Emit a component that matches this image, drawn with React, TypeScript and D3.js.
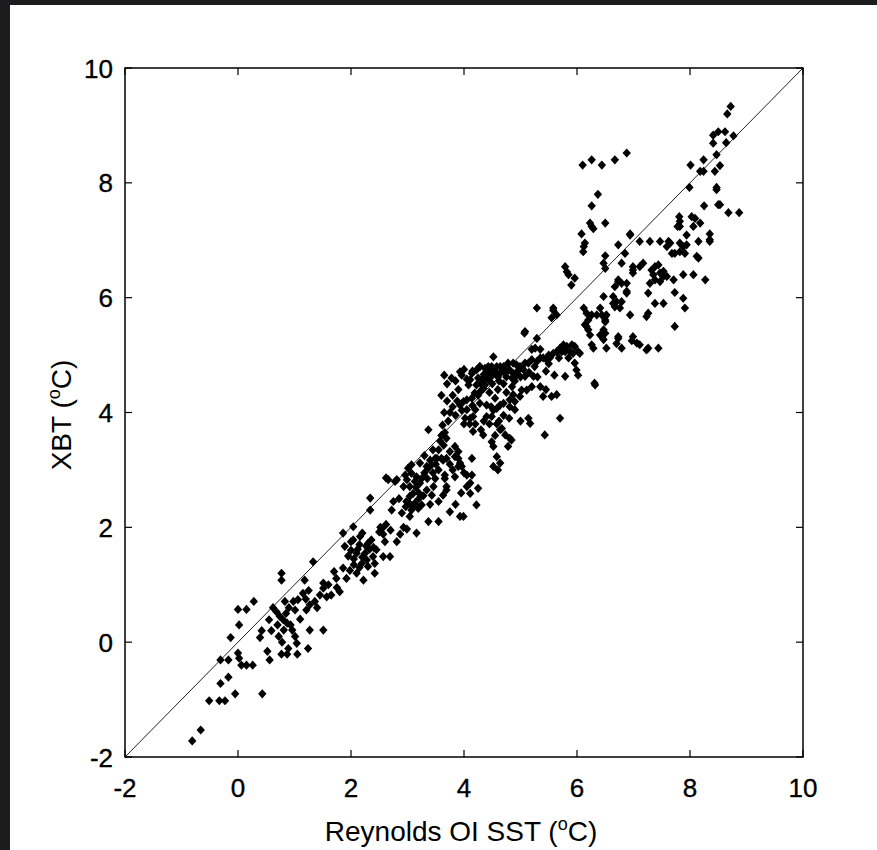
import React from 'react';
import * as d3 from 'd3';

// Axis ticks (deg C)
const xTicks = [-2, 0, 2, 4, 6, 8, 10];
const yTicks = [-2, 0, 2, 4, 6, 8, 10];
const axisDomain: [number, number] = [-2, 10];

// [Reynolds OI SST, XBT] pairs, grouped by region of the scatter
const coldPoints: [number, number][] = [
  [-0.81, -1.72], [-0.66, -1.53], [-0.51, -1.02], [-0.33, -1.02], [-0.23, -1.02], [-0.05, -0.9], [0.43, -0.9],
  [-0.31, -0.72], [-0.17, -0.61], [-0.31, -0.31], [-0.17, -0.31], [0.0, -0.19], [0.02, -0.28], [0.06, -0.4],
  [0.15, -0.4], [0.26, -0.4], [0.56, -0.31], [0.52, -0.16], [0.77, -0.21], [0.87, -0.21], [0.89, -0.11],
  [1.05, -0.21], [1.24, -0.11], [-0.13, 0.08], [0.02, 0.3], [0.0, 0.57], [0.15, 0.57], [0.28, 0.71],
  [0.39, 0.08], [0.42, 0.2], [0.59, 0.2], [0.55, 0.39], [0.68, 0.53], [0.74, 0.45], [0.8, 0.39], [0.85, 0.5],
  [0.87, 0.33], [0.81, 0.21], [0.96, 0.21], [1.01, 0.1], [1.04, -0.02], [0.83, 0.71], [0.77, 1.2], [0.77, 1.08],
  [1.18, 1.08], [1.33, 1.4], [1.27, 0.21], [1.51, 0.21], [1.01, 0.56], [1.06, 0.74], [0.98, 0.71], [1.21, 0.56],
  [1.27, 0.65], [1.36, 0.71], [1.45, 0.82], [1.51, 1.03], [1.51, 0.94], [1.57, 0.79], [0.72, 0.1], [0.78, 0.0],
  [0.9, 0.6], [0.93, 0.3], [0.7, 0.3], [0.62, 0.6], [1.1, 0.4], [1.15, 0.85], [1.25, 0.9], [1.4, 0.6], [1.2, 0.75],
];

const coolPoints: [number, number][] = [
  [1.65, 0.82], [1.7, 1.23], [1.74, 1.11], [1.8, 0.88], [1.86, 1.29], [1.92, 1.11], [1.89, 1.67], [1.86, 1.9],
  [2.04, 1.78], [2.1, 1.55], [2.1, 1.2], [2.22, 1.08], [2.19, 1.37], [2.27, 1.67], [2.36, 1.78], [2.39, 1.49],
  [2.42, 1.2], [2.16, 1.84], [2.3, 1.32], [2.04, 2.01], [2.0, 1.6], [2.05, 1.45], [2.25, 1.55], [2.33, 1.62],
  [2.45, 1.61], [2.28, 1.43], [2.42, 1.37], [2.57, 1.49], [2.69, 1.49], [2.5, 1.92], [2.55, 1.98],
  [2.57, 1.88], [2.52, 2.0], [2.81, 1.75], [2.87, 1.88], [2.93, 2.0], [2.99, 1.97], [3.16, 1.9], [2.34, 2.51],
  [2.34, 2.3], [2.72, 2.3], [2.93, 2.71], [2.99, 2.83], [2.62, 2.86], [2.66, 2.83], [2.81, 2.83], [2.78, 2.8],
  [1.6, 1.0], [1.75, 0.95], [1.95, 1.5], [2.15, 1.7], [2.2, 1.9], [2.97, 2.36], [3.07, 2.3], [3.04, 2.19],
  [2.0, 1.75], [2.12, 1.62], [2.2, 1.48], [2.3, 1.72], [2.4, 1.65], [2.15, 1.3], [1.98, 1.25], [2.6, 1.75],
  [2.7, 1.95], [2.62, 2.05], [2.05, 1.35],
];

const midPoints: [number, number][] = [
  [3.84, 3.41], [3.9, 3.32], [3.9, 3.2], [3.93, 3.12], [3.9, 3.06], [3.84, 3.23], [3.75, 3.32], [3.69, 3.2],
  [3.6, 3.2], [3.49, 3.2], [3.4, 3.17], [3.34, 3.06], [3.37, 3.03], [3.43, 3.09], [3.22, 3.12], [3.07, 3.09],
  [3.01, 3.03], [2.96, 2.91], [3.07, 2.94], [3.16, 2.88], [3.22, 2.77], [3.13, 2.8], [3.04, 2.71], [3.1, 2.59],
  [3.04, 2.54], [2.98, 2.45], [3.1, 2.36], [3.19, 2.33], [3.25, 2.39], [3.43, 2.56], [3.34, 2.65],
  [3.46, 2.71], [3.63, 2.56], [3.69, 2.65], [3.49, 2.85], [3.66, 2.91], [3.84, 2.88], [4.05, 2.91], [4.14, 2.91],
  [3.96, 3.06], [4.11, 2.77], [4.25, 2.68], [4.11, 2.59], [4.22, 2.39], [4.05, 2.71], [3.93, 2.19], [3.75, 2.27],
  [3.99, 2.19], [3.37, 2.1], [3.55, 2.1], [3.13, 2.42], [3.37, 3.7], [3.58, 3.5], [3.64, 3.43], [3.6, 3.6],
  [3.66, 3.65], [3.62, 3.78], [3.69, 3.55], [4.14, 3.2], [3.52, 3.2], [3.63, 3.17], [3.66, 2.85], [3.69, 2.71],
  [4.52, 3.41], [4.58, 3.23], [4.52, 3.06], [4.64, 3.12], [4.78, 3.41], [4.16, 3.67], [4.34, 3.61], [4.49, 3.49],
  [4.67, 3.72], [4.73, 3.61], [4.81, 3.55], [5.43, 3.61], [5.7, 3.9], [5.14, 3.9], [5.17, 3.81], [4.84, 3.52],
  [4.6, 3.0], [3.3, 2.95], [3.55, 3.0], [3.2, 2.6], [3.2, 2.5], [3.28, 2.55], [3.05, 2.4], [3.15, 2.7],
  [3.25, 2.85], [3.35, 2.85], [3.45, 2.95], [3.5, 3.1], [3.3, 3.25], [3.45, 3.35], [3.55, 3.35], [3.75, 3.1],
  [3.8, 3.0], [4.0, 2.95], [3.95, 2.6], [3.85, 2.4], [3.55, 2.45], [3.4, 2.4], [2.9, 2.25], [2.85, 2.5],
  [2.75, 2.45],
];

const corePoints: [number, number][] = [
  [5.08, 4.63], [5.23, 4.63], [5.11, 4.39], [5.02, 4.39], [4.99, 4.28], [4.87, 4.31], [4.9, 4.19], [4.81, 4.22],
  [4.81, 4.1], [4.7, 4.16], [4.64, 4.13], [4.58, 4.07], [4.52, 4.04], [4.49, 3.93], [4.4, 3.93], [4.64, 3.7],
  [4.4, 4.13], [4.28, 4.16], [4.16, 3.93], [4.11, 3.9], [4.02, 3.9], [3.96, 4.04], [3.93, 4.13], [3.99, 4.19],
  [4.05, 4.22], [4.14, 4.25], [4.19, 4.34], [4.28, 4.36], [4.34, 4.42], [4.37, 4.48], [4.43, 4.57], [4.46, 4.6],
  [4.43, 4.65], [4.4, 4.71], [4.52, 4.68], [4.58, 4.65], [4.64, 4.68], [4.73, 4.68], [4.87, 4.68], [4.93, 4.65],
  [4.52, 4.97], [4.28, 4.8], [4.22, 4.74], [4.14, 4.68], [4.11, 4.57], [3.96, 4.65], [3.93, 4.71], [4.08, 4.48],
  [4.22, 4.48], [4.34, 4.6], [6.05, 5.03], [5.93, 5.03], [6.02, 5.06], [5.96, 5.15], [5.91, 5.18], [5.82, 5.15],
  [5.76, 5.18], [5.88, 5.06], [5.79, 5.06], [5.73, 5.06], [5.64, 5.06], [5.58, 5.03], [5.52, 4.95], [5.46, 4.92],
  [5.4, 4.95], [5.35, 4.95], [5.29, 4.89], [5.2, 4.92], [5.14, 4.86], [5.08, 4.86], [4.99, 4.8], [4.93, 4.83],
  [4.87, 4.86], [4.78, 4.86], [4.7, 4.8], [4.64, 4.8], [4.58, 4.8], [4.49, 4.8], [4.43, 4.8], [4.37, 4.77],
  [4.28, 4.8], [5.96, 4.86], [5.99, 4.74], [6.02, 4.65], [5.79, 4.63], [5.64, 4.31], [6.31, 4.51], [5.07, 5.38],
  [5.29, 5.29], [5.26, 5.12], [5.2, 5.1], [5.35, 5.1], [4.0, 4.75], [4.15, 4.72], [4.35, 4.66], [4.6, 4.62],
  [4.75, 4.62], [4.9, 4.55], [5.0, 4.62], [5.15, 4.7], [5.3, 4.62], [5.45, 4.72], [5.6, 4.65], [5.45, 4.4],
  [4.75, 4.35], [4.85, 4.45], [5.2, 4.45], [5.35, 4.45], [5.4, 4.28], [5.55, 4.28], [4.7, 3.95], [4.8, 3.9],
  [4.9, 4.05], [5.0, 3.85], [4.62, 3.85], [4.58, 3.8], [3.6, 4.3], [3.7, 4.5], [3.75, 4.0], [3.8, 4.1],
  [3.85, 3.95], [3.72, 3.85], [3.65, 4.0], [3.9, 4.4], [4.0, 3.8], [4.1, 3.8], [4.2, 4.05], [3.8, 4.3],
  [3.7, 4.2], [3.78, 4.6], [3.65, 4.65], [4.45, 4.75], [4.55, 4.72], [4.68, 4.74], [4.8, 4.75], [4.95, 4.72],
  [4.5, 4.5], [4.6, 4.4], [4.55, 4.25], [4.7, 4.5], [4.45, 4.35], [4.3, 4.5], [4.25, 4.3], [4.48, 4.1],
  [4.62, 4.55], [4.85, 4.6], [5.05, 4.75], [5.25, 4.8], [5.5, 4.85], [5.68, 4.95], [5.85, 4.95], [5.7, 5.12],
  [5.5, 5.0], [4.3, 3.7], [4.2, 3.8], [4.45, 3.8], [4.55, 3.6], [4.35, 3.85], [4.05, 4.05], [4.15, 4.12],
  [4.25, 4.6], [4.05, 4.58], [3.85, 4.55], [3.88, 4.2],
];

const warmPoints: [number, number][] = [
  [6.08, 7.11], [6.12, 6.89], [6.11, 6.8], [6.94, 7.11], [6.73, 6.92], [6.85, 6.77], [6.5, 6.73], [6.47, 6.6],
  [6.5, 6.51], [6.79, 6.6], [6.99, 6.54], [6.99, 6.43], [5.79, 6.54], [5.82, 6.45], [5.85, 6.4], [5.96, 6.34],
  [5.9, 6.22], [6.73, 6.31], [6.79, 6.25], [6.88, 6.25], [6.88, 6.11], [6.47, 6.02], [6.64, 6.02], [6.7, 5.93],
  [6.67, 5.84], [6.76, 5.82], [6.79, 5.93], [6.12, 5.82], [6.17, 5.73], [6.26, 5.7], [6.35, 5.7], [6.44, 5.7],
  [6.52, 5.7], [6.5, 5.61], [6.2, 5.61], [6.17, 5.5], [6.2, 5.44], [6.94, 5.7], [6.47, 5.44], [6.44, 5.32],
  [6.47, 5.27], [6.5, 5.38], [6.73, 5.32], [6.99, 5.32], [6.52, 5.12], [6.79, 5.12], [7.06, 5.21], [6.29, 5.12],
  [6.32, 4.48], [5.58, 5.82], [5.64, 5.7], [5.29, 5.82], [5.08, 5.41], [6.1, 8.31], [6.26, 8.4], [6.44, 8.31],
  [6.67, 8.4], [6.88, 8.52], [6.37, 7.8], [6.26, 7.6], [6.23, 7.3], [6.26, 7.24], [6.29, 7.2], [6.5, 7.3],
  [6.14, 6.95], [5.58, 5.78], [5.55, 5.65], [6.73, 6.28], [6.67, 6.19], [6.88, 6.08], [6.64, 5.9],
  [6.41, 5.82], [6.5, 5.67], [7.26, 6.08], [7.38, 5.9], [7.53, 5.9], [7.26, 5.73], [7.23, 5.67], [7.73, 6.09],
  [7.88, 5.99], [7.91, 5.82], [7.73, 5.5], [6.73, 5.29], [7.11, 5.18], [7.26, 5.12], [7.44, 5.12],
  [6.14, 5.53], [6.23, 5.35], [6.41, 5.35], [6.5, 5.58], [6.7, 5.2], [6.97, 5.25], [7.23, 5.09], [6.26, 5.18],
];

const hotPoints: [number, number][] = [
  [8.72, 9.33], [8.66, 9.2], [8.41, 8.83], [8.41, 8.69], [8.5, 8.89], [8.62, 8.89], [8.64, 8.7], [8.77, 8.82],
  [8.47, 8.49], [8.53, 8.3], [8.44, 8.2], [8.24, 8.4], [8.18, 8.2], [8.24, 8.2], [8.01, 8.31], [7.99, 7.92],
  [8.47, 7.92], [8.47, 7.88], [8.5, 7.62], [8.53, 7.62], [8.68, 7.48], [8.87, 7.48], [8.25, 7.6], [7.81, 7.41],
  [7.82, 7.33], [7.78, 7.24], [7.82, 7.24], [8.03, 7.41], [8.09, 7.38], [8.06, 7.24], [8.18, 7.3], [7.94, 7.09],
  [8.35, 7.11], [8.35, 7.01], [6.94, 7.09], [7.11, 6.98], [7.29, 6.98], [7.47, 6.98], [7.62, 6.98], [7.59, 6.89],
  [7.65, 6.95], [7.68, 6.77], [7.73, 6.77], [7.82, 6.8], [7.82, 6.95], [7.88, 6.89], [7.94, 6.92], [7.91, 6.77],
  [8.15, 6.98], [8.35, 6.98], [8.12, 6.72], [8.15, 6.69], [6.99, 6.48], [7.11, 6.54], [7.17, 6.6], [7.38, 6.54],
  [7.44, 6.57], [7.47, 6.43], [7.53, 6.46], [7.53, 6.37], [7.32, 6.48], [7.35, 6.4], [7.38, 6.31], [7.29, 6.25],
  [7.47, 6.28], [7.59, 6.37], [7.71, 6.31], [7.88, 6.4], [8.06, 6.4], [8.27, 6.31],
];

const allPoints = [...coldPoints, ...coolPoints, ...midPoints, ...corePoints, ...warmPoints, ...hotPoints];

const FONT = '"Liberation Sans", Arial, Helvetica, sans-serif';

export default function App() {
  const W = 877;
  const H = 850;
  const x = d3.scaleLinear().domain(axisDomain).range([125, 803]);
  const y = d3.scaleLinear().domain(axisDomain).range([757, 68]);
  const [x0, x1] = x.range();
  const [y0, y1] = y.range();
  const tickLen = 7;
  const diamond = 'M0,-4.6L4.2,0L0,4.6L-4.2,0Z';

  return (
    <svg width={W} height={H} style={{ position: 'absolute', left: 0, top: 0 }} fontFamily={FONT}>
      <rect width={W} height={H} fill="#1c1c1e" />
      <rect x={10} y={5} width={W - 10} height={H - 5} fill="#ffffff" />

      <line x1={x(-2)} y1={y(-2)} x2={x(10)} y2={y(10)} stroke="#222" strokeWidth={1} />

      {allPoints.map(([a, b], i) => (
        <path key={i} d={diamond} transform={`translate(${x(a)},${y(b)})`} fill="#000" />
      ))}

      <rect x={x0} y={y1} width={x1 - x0} height={y0 - y1} fill="none" stroke="#000" strokeWidth={1.5} />

      <g fill="#000" stroke="#000" strokeWidth={0.35}>
        {xTicks.map((t) => (
          <g key={'xt' + t}>
            <line x1={x(t)} x2={x(t)} y1={y0} y2={y0 - tickLen} strokeWidth={1.2} />
            <line x1={x(t)} x2={x(t)} y1={y1} y2={y1 + tickLen} strokeWidth={1.2} />
            <text x={x(t)} y={y0 + 40} textAnchor="middle" fontSize={26}>
              {t}
            </text>
          </g>
        ))}
        {yTicks.map((t) => (
          <g key={'yt' + t}>
            <line x1={x0} x2={x0 + tickLen} y1={y(t)} y2={y(t)} strokeWidth={1.2} />
            <line x1={x1} x2={x1 - tickLen} y1={y(t)} y2={y(t)} strokeWidth={1.2} />
            <text x={113} y={y(t) + 9.5} textAnchor="end" fontSize={26}>
              {t}
            </text>
          </g>
        ))}
      </g>

      <text x={461} y={841} textAnchor="middle" fontSize={28} fill="#000">
        Reynolds OI SST (<tspan fontSize={18} dy={-11}>o</tspan>
        <tspan dy={11}>C)</tspan>
      </text>
      <text transform={`translate(71,415) rotate(-90)`} textAnchor="middle" fontSize={28} fill="#000">
        XBT (<tspan fontSize={18} dy={-11}>o</tspan>
        <tspan dy={11}>C)</tspan>
      </text>
    </svg>
  );
}
